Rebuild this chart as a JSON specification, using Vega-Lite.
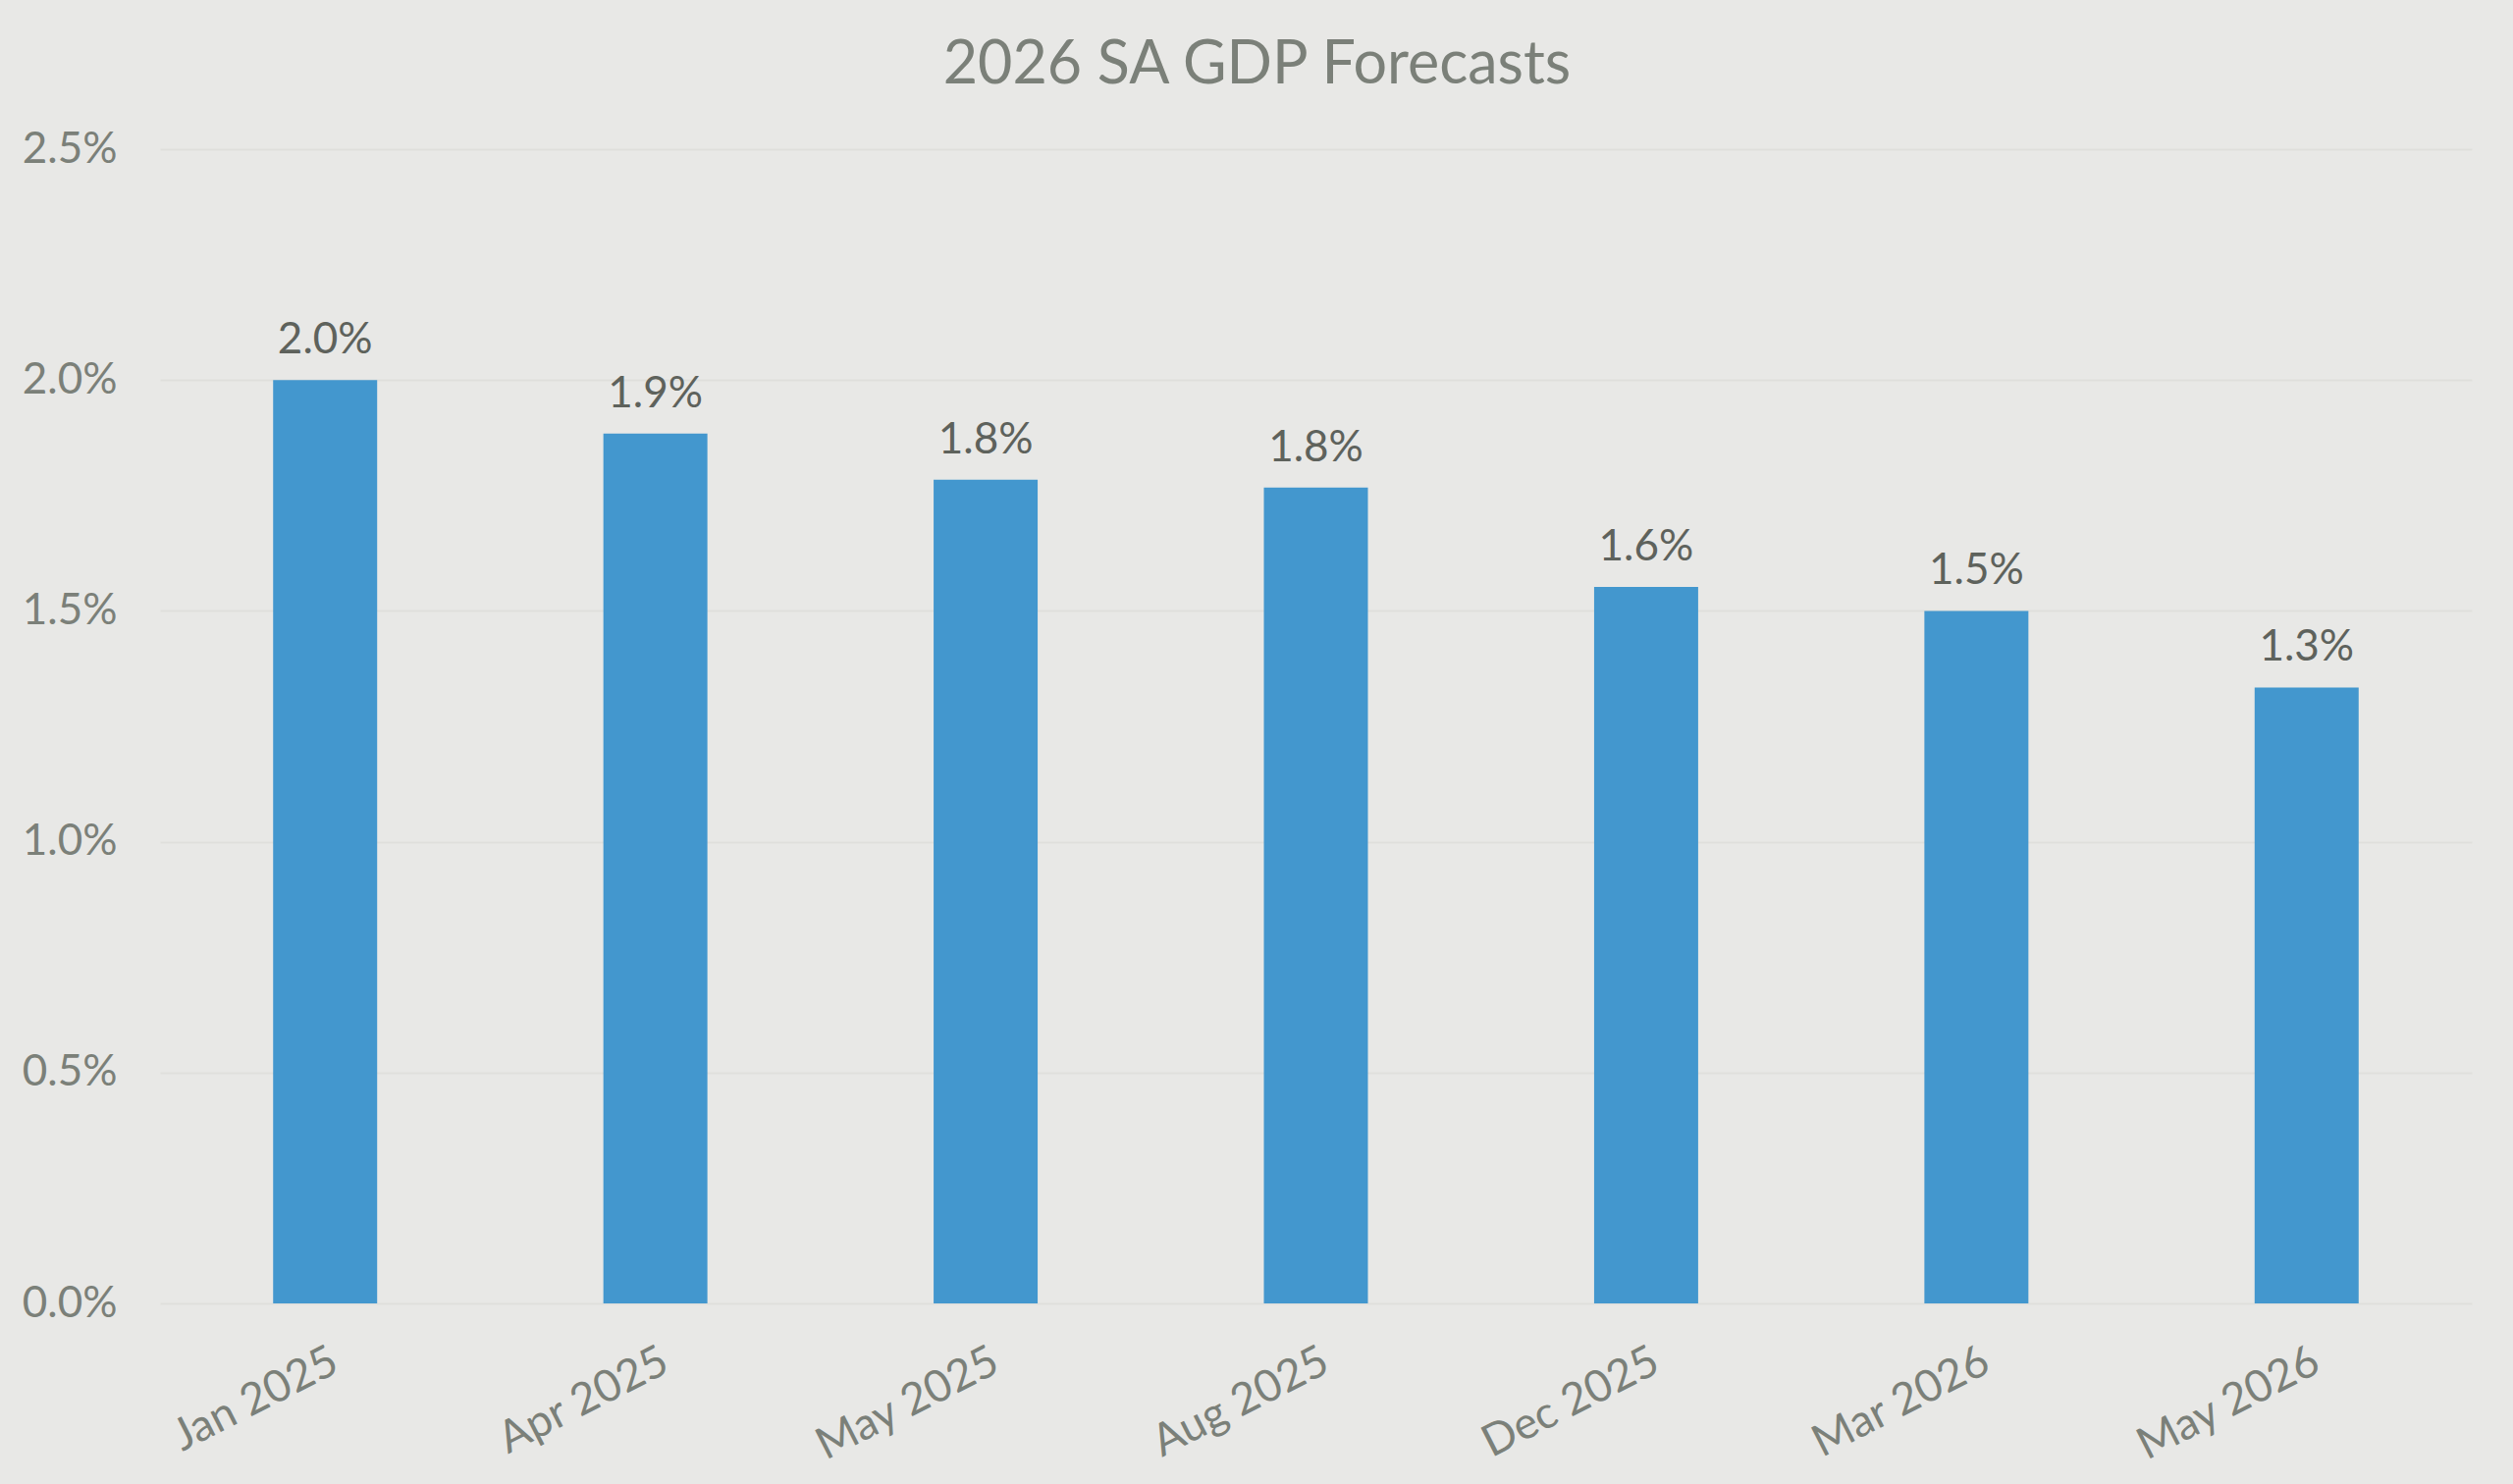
{
  "$schema": "https://vega.github.io/schema/vega-lite/v6.json",
  "autosize": {"type": "none"},
  "padding": {"left": 163, "top": 152, "right": 42, "bottom": 184},
  "width": 2355,
  "height": 1176,
  "background": "#e8e8e6",
  "title": {
    "text": "2026 SA GDP Forecasts",
    "anchor": "middle",
    "font": "Lato",
    "fontSize": 61,
    "fontWeight": "normal",
    "color": "#7b8079",
    "offset": 32,
    "dx": -60
  },
  "data": {
    "values": [
      {"date": "Jan 2025", "gdp": 0.02},
      {"date": "Apr 2025", "gdp": 0.01884},
      {"date": "May 2025", "gdp": 0.01784},
      {"date": "Aug 2025", "gdp": 0.01767},
      {"date": "Dec 2025", "gdp": 0.01552},
      {"date": "Mar 2026", "gdp": 0.015},
      {"date": "May 2026", "gdp": 0.01334}
    ]
  },
  "encoding": {
    "x": {
      "field": "date",
      "type": "nominal",
      "sort": null,
      "title": null,
      "scale": {"paddingInner": 0.685, "paddingOuter": 0.3425},
      "axis": {
        "labelAngle": -27,
        "labelAlign": "right",
        "labelBaseline": "top",
        "labelPadding": 36,
        "labelLimit": 0,
        "labelFont": "Lato",
        "labelFontSize": 45,
        "labelColor": "#7b8079",
        "ticks": false,
        "domain": false,
        "grid": false
      }
    },
    "y": {
      "field": "gdp",
      "type": "quantitative",
      "title": null,
      "scale": {"domain": [0, 0.025]},
      "axis": {
        "values": [0, 0.005, 0.01, 0.015, 0.02, 0.025],
        "format": ".1%",
        "labelFont": "Lato",
        "labelFontSize": 44,
        "labelColor": "#7b8079",
        "labelPadding": 44,
        "ticks": false,
        "domain": false,
        "gridColor": "#dfdfdc",
        "gridWidth": 2
      }
    }
  },
  "layer": [
    {"mark": {"type": "bar", "color": "#4397ce"}},
    {
      "mark": {
        "type": "text",
        "font": "Lato",
        "fontSize": 44,
        "color": "#5e625c",
        "baseline": "alphabetic",
        "dy": -27
      },
      "encoding": {"text": {"field": "gdp", "type": "quantitative", "format": ".1%"}}
    }
  ],
  "config": {"view": {"stroke": null}}
}
